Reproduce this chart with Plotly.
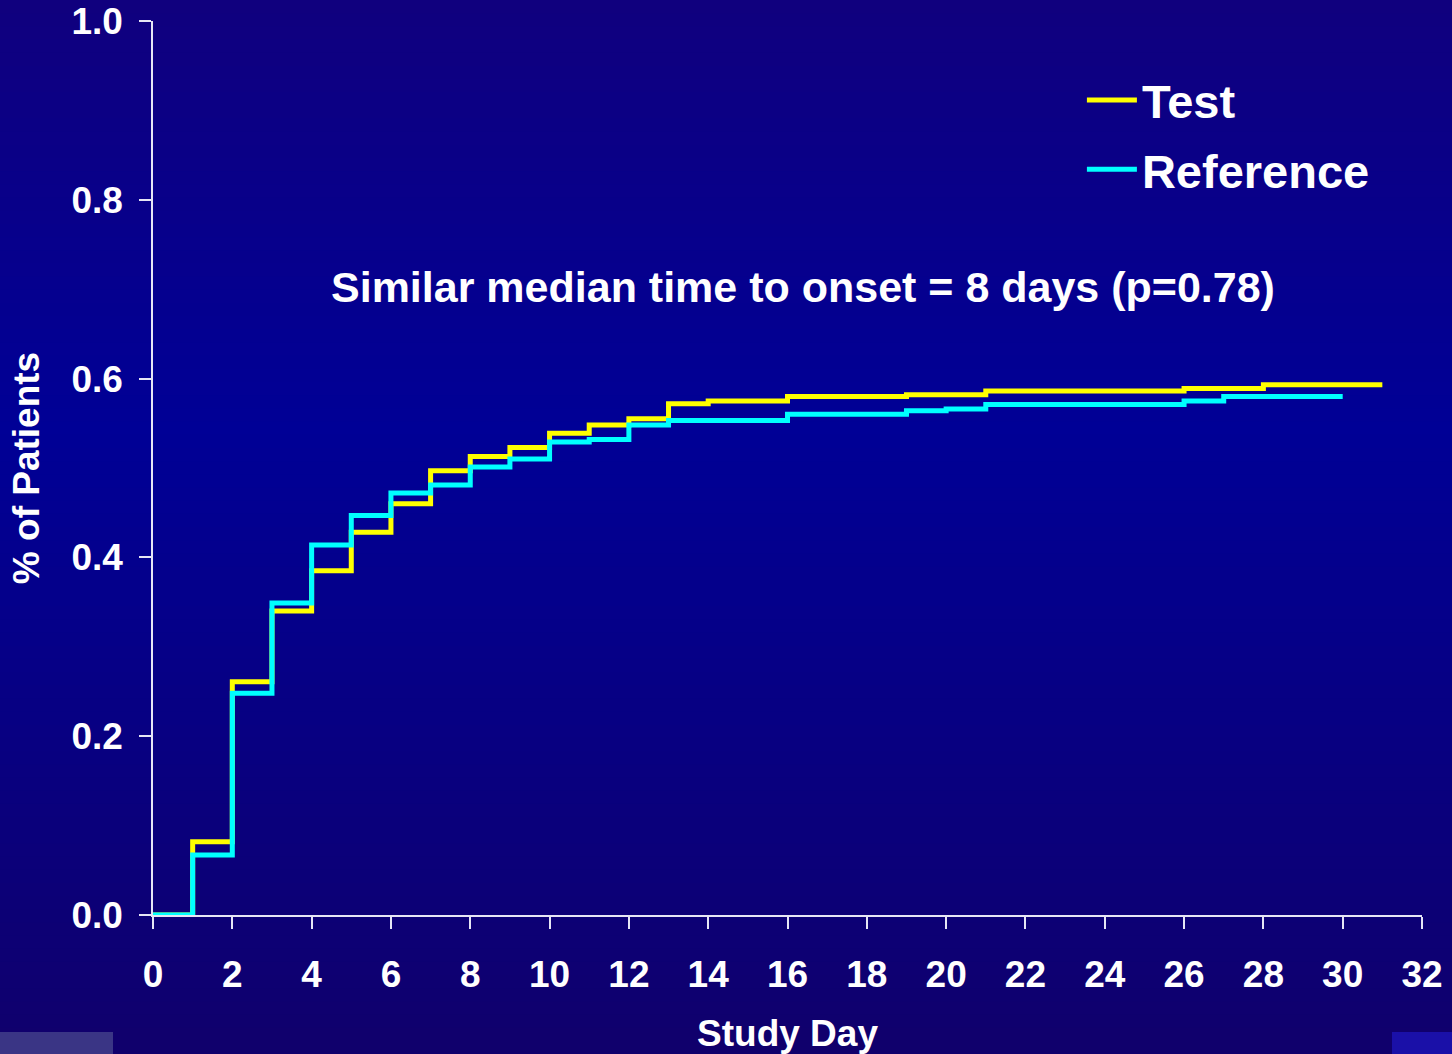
import plotly.graph_objects as go

# ---- data ----
days_test = [0, 1, 2, 3, 4, 5, 6, 7, 8, 9, 10, 11, 12, 13, 14, 16, 19, 21, 26, 28, 31]
test_vals = [0.0, 0.082, 0.261, 0.340, 0.385, 0.428, 0.460, 0.497, 0.513, 0.523, 0.539,
             0.548, 0.555, 0.572, 0.575, 0.580, 0.582, 0.586, 0.589, 0.593, 0.593]

days_ref = [0, 1, 2, 3, 4, 5, 6, 7, 8, 9, 10, 11, 12, 13, 16, 19, 20, 21, 26, 27, 30]
ref_vals = [0.0, 0.067, 0.248, 0.349, 0.414, 0.447, 0.472, 0.481, 0.501, 0.510, 0.529,
            0.532, 0.548, 0.553, 0.560, 0.564, 0.566, 0.571, 0.575, 0.580, 0.580]

x_ticks = list(range(0, 33, 2))
y_ticks = [0.0, 0.2, 0.4, 0.6, 0.8, 1.0]
y_tick_labels = ["0.0", "0.2", "0.4", "0.6", "0.8", "1.0"]

series_names = ["Test", "Reference"]
series_colors = ["#FFFF00", "#00FFFF"]
title_text = "Similar median time to onset = 8 days (p=0.78)"

FONT = "Liberation Sans, Arial, Helvetica, sans-serif"
W, H = 1452, 1054
ML, MR, MT, MB = 153, 30, 21, 139

fig = go.Figure()
fig.add_trace(go.Scatter(x=days_test, y=test_vals, mode="lines", name=series_names[0],
                         legendgroup="g1",
                         line=dict(color=series_colors[0], width=5, shape="hv")))
fig.add_trace(go.Scatter(x=days_ref, y=ref_vals, mode="lines", name=series_names[1],
                         legendgroup="g2",
                         line=dict(color=series_colors[1], width=5, shape="hv")))

# ---- background gradient (PowerPoint-like) built from horizontal bands ----
def lerp(c1, c2, t):
    return tuple(round(a + (b - a) * t) for a, b in zip(c1, c2))

stops = [(0, (0x10, 0x00, 0x7E)), (430, (0x00, 0x00, 0x96)), (H, (0x10, 0x00, 0x6C))]
plot_h = H - MT - MB
shapes = []
n = 80
for i in range(n):
    py0 = H * i / n - (30 if i == 0 else 0)
    py1 = H * (i + 1) / n + 1 + (30 if i == n - 1 else 0)
    mid = min(max((py0 + py1) / 2, 0), H)
    for (a, ca), (b, cb) in zip(stops[:-1], stops[1:]):
        if a <= mid <= b:
            c = lerp(ca, cb, (mid - a) / (b - a))
            break
    y0 = (H - MB - py1) / plot_h
    y1 = (H - MB - py0) / plot_h
    shapes.append(dict(type="rect", xref="paper", yref="paper", x0=-0.2, x1=1.2,
                       y0=y0, y1=y1, fillcolor="rgb(%d,%d,%d)" % c,
                       line=dict(width=0), layer="below"))

def px_to_paper_x(px):
    return (px - ML) / (W - ML - MR)

def px_to_paper_y(py):
    return (H - MB - py) / plot_h

# corner logo fragments (plain boxes)
shapes.append(dict(type="rect", xref="paper", yref="paper",
                   x0=px_to_paper_x(-5), x1=px_to_paper_x(113),
                   y0=px_to_paper_y(1060), y1=px_to_paper_y(1032),
                   fillcolor="#3a3585", line=dict(width=0), layer="below"))
shapes.append(dict(type="rect", xref="paper", yref="paper",
                   x0=px_to_paper_x(1392), x1=px_to_paper_x(1460),
                   y0=px_to_paper_y(1060), y1=px_to_paper_y(1032),
                   fillcolor="#1a10a8", line=dict(width=0), layer="below"))

fig.update_layout(
    width=W, height=H,
    margin=dict(l=ML, r=MR, t=MT, b=MB, autoexpand=False),
    paper_bgcolor="rgba(0,0,0,0)",
    plot_bgcolor="rgba(0,0,0,0)",
    shapes=shapes,
    font=dict(family=FONT, color="white", weight="bold"),
    showlegend=True,
    legend=dict(x=0.732, y=0.953, xanchor="left", yanchor="top",
                bgcolor="rgba(0,0,0,0)",
                font=dict(size=47, color="white", family=FONT, weight="bold"),
                itemwidth=50, tracegroupgap=5),
    xaxis=dict(range=[0, 32], tickvals=x_ticks, ticktext=[str(v) for v in x_ticks],
               automargin=False,
               showgrid=False, zeroline=False, showline=True, linecolor="#e6e6f5", linewidth=1.5,
               ticks="outside", ticklen=12, tickwidth=1.5, tickcolor="#e6e6f5",
               tickfont=dict(size=37, color="white", family=FONT, weight="bold"),
               ticklabelstandoff=14,
               title=dict(text="Study Day", font=dict(size=37, color="white", family=FONT, weight="bold"),
                          standoff=29)),
    yaxis=dict(range=[0, 1], tickvals=y_ticks, ticktext=y_tick_labels,
               automargin=False,
               showgrid=False, zeroline=False, showline=True, linecolor="#e6e6f5", linewidth=1.5,
               ticks="outside", ticklen=12, tickwidth=1.5, tickcolor="#e6e6f5",
               tickfont=dict(size=37, color="white", family=FONT, weight="bold"),
               ticklabelstandoff=9,
               title=dict(text="% of Patients", font=dict(size=37, color="white", family=FONT, weight="bold"),
                          standoff=20)),
    annotations=[
        dict(text=title_text, x=16.39, y=0.703, xref="x", yref="y", showarrow=False,
             font=dict(size=43, color="white", family=FONT, weight="bold"),
             xanchor="center", yanchor="middle"),
    ],
)

fig.write_html("out.html")
